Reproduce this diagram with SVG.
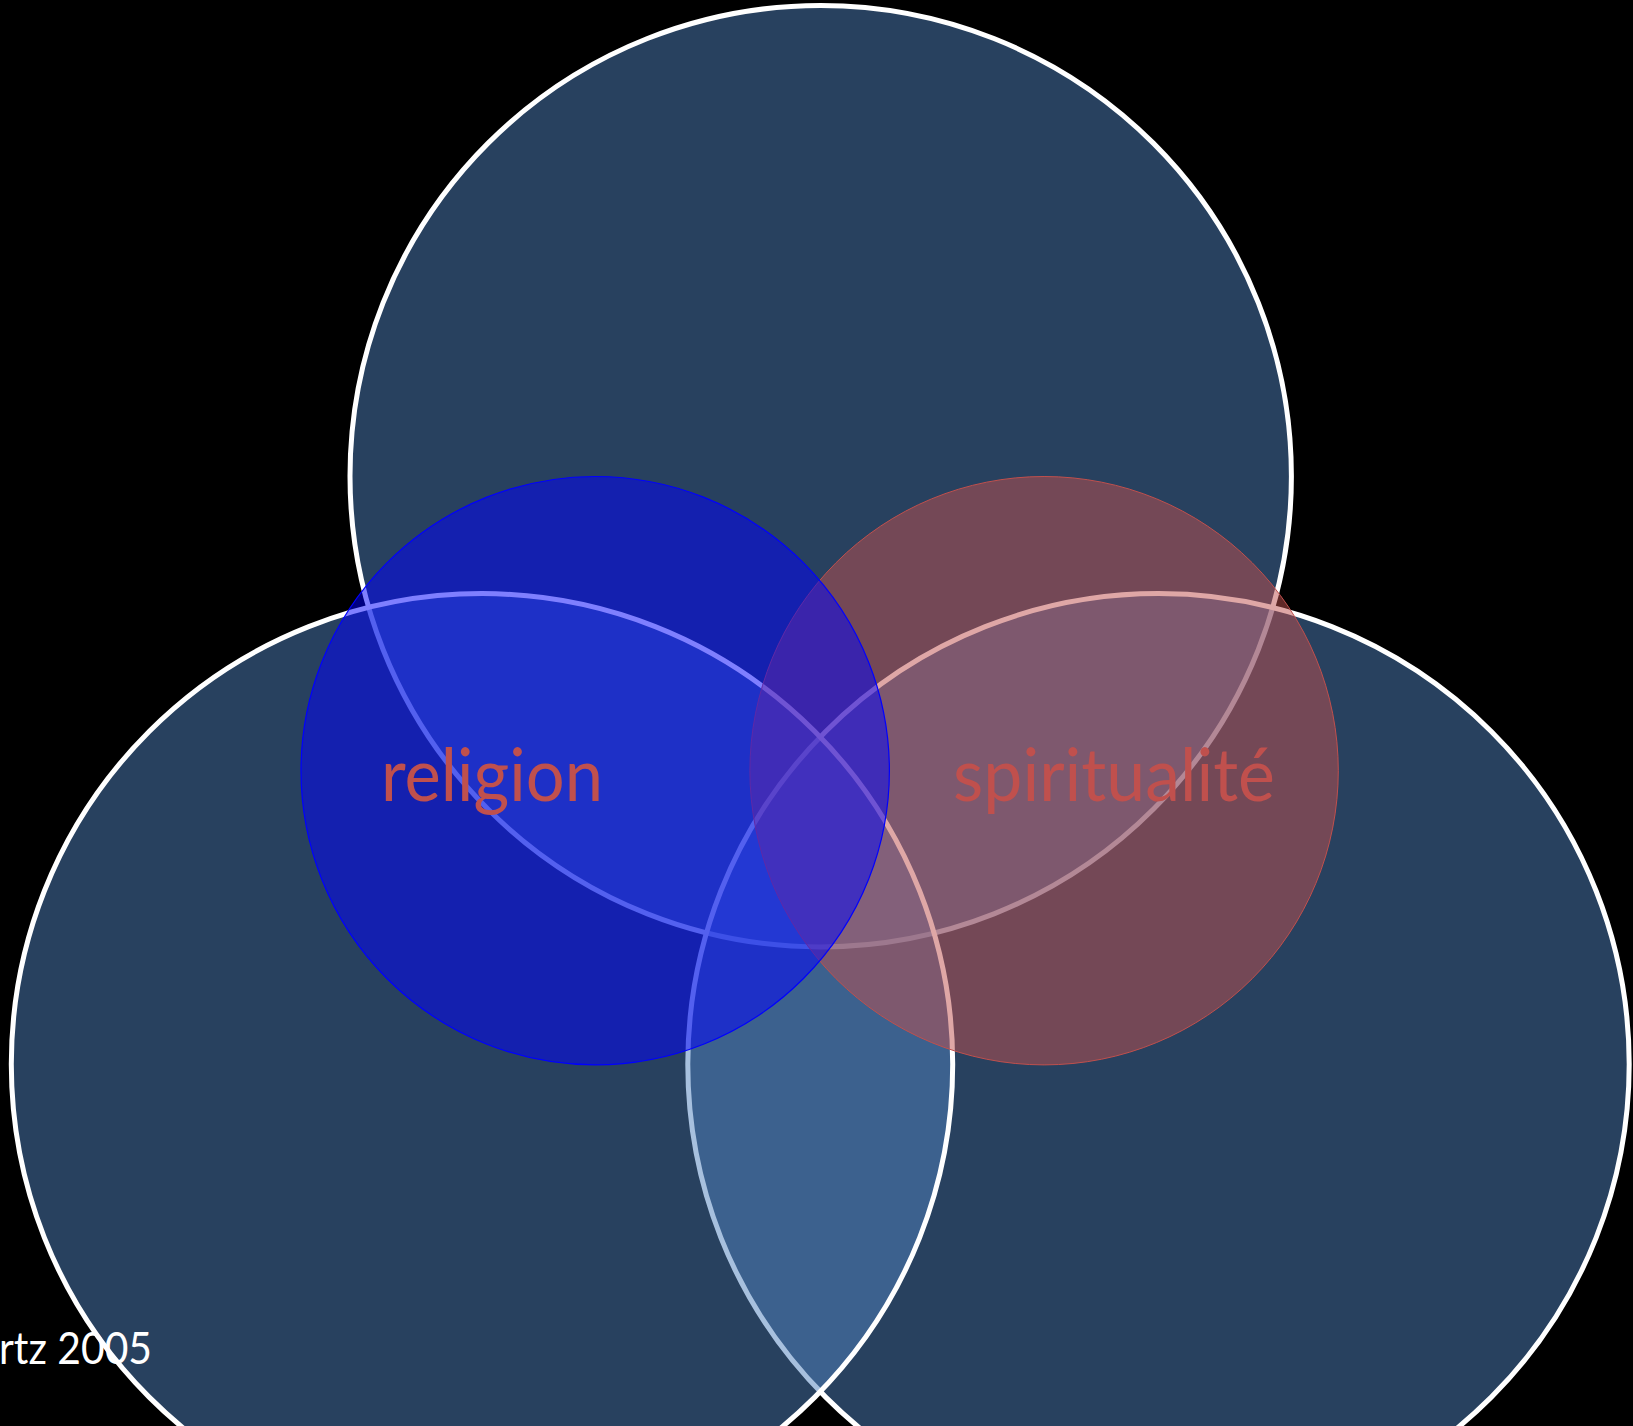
<svg xmlns="http://www.w3.org/2000/svg" width="1633" height="1426" viewBox="0 0 1633 1426">
<style>
.big{fill:#4F81BD;fill-opacity:0.5;stroke:#FFFFFF;stroke-width:5}
.lbl{font-family:Lato,"Open Sans","Liberation Sans",sans-serif;font-size:74px;fill:#C0504D}
.note{font-family:Lato,"Open Sans","Liberation Sans",sans-serif;font-size:44px;fill:#FFFFFF}
</style>
<rect x="0" y="0" width="1633" height="1426" fill="#000000"/>
<g id="circle-top"><circle class="big" cx="820.7" cy="476.2" r="470.7"/></g>
<g id="circle-bottom-right"><circle class="big" cx="1158.5" cy="1064.3" r="470.7"/></g>
<g id="circle-bottom-left"><circle class="big" cx="482" cy="1064.3" r="470.7"/></g>
<g id="spiritualite">
<circle cx="1044.1" cy="770.7" r="294.2" fill="#C0504D" fill-opacity="0.5" stroke="#C0504D" stroke-width="1"/>
</g>
<g id="religion">
<circle cx="595.2" cy="770.7" r="294.2" fill="#0000FF" fill-opacity="0.5" stroke="#0000FF" stroke-width="1.2"/>
</g>
<g id="labels">
<text class="lbl" x="381" y="801" textLength="222" lengthAdjust="spacingAndGlyphs">religion</text>
<text class="lbl" x="953" y="801" textLength="322" lengthAdjust="spacingAndGlyphs">spiritualité</text>
</g>
<g id="note">
<text class="note" x="-1" y="1364" textLength="153" lengthAdjust="spacingAndGlyphs">rtz 2005</text>
</g>
<g id="connectors"></g>
</svg>
